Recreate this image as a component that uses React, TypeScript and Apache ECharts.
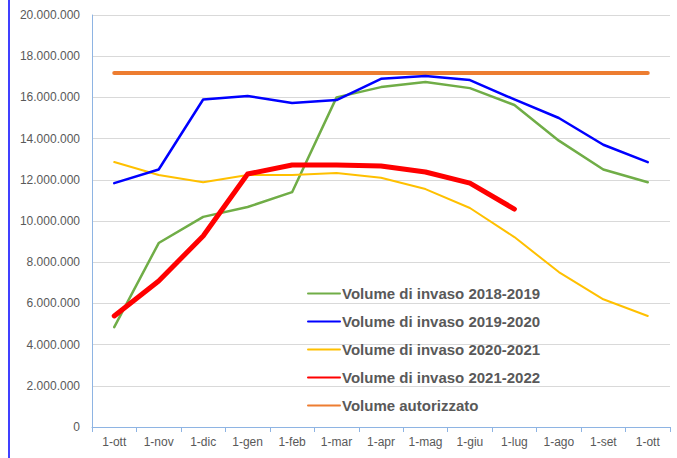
import React, { useEffect, useRef } from "react";
import * as echarts from "echarts";

const categories = ["1-ott", "1-nov", "1-dic", "1-gen", "1-feb", "1-mar", "1-apr", "1-mag", "1-giu", "1-lug", "1-ago", "1-set", "1-ott"];
const vol20182019 = [4850000, 8930000, 10200000, 10680000, 11400000, 16000000, 16500000, 16750000, 16450000, 15630000, 13900000, 12500000, 11880000];
const vol20192020 = [11840000, 12500000, 15900000, 16070000, 15730000, 15870000, 16900000, 17040000, 16840000, 15900000, 15000000, 13700000, 12860000];
const vol20202021 = [12860000, 12230000, 11880000, 12230000, 12230000, 12330000, 12100000, 11550000, 10630000, 9220000, 7520000, 6200000, 5390000];
const vol20212022 = [5390000, 7090000, 9270000, 12280000, 12720000, 12720000, 12670000, 12380000, 11840000, 10580000];
const volAutorizzato = [17180000, 17180000, 17180000, 17180000, 17180000, 17180000, 17180000, 17180000, 17180000, 17180000, 17180000, 17180000, 17180000];

const fmt = (v: number) => String(Math.round(v)).replace(/\B(?=(\d{3})+(?!\d))/g, ".");

export default function App() {
  const ref = useRef<HTMLDivElement>(null);
  useEffect(() => {
    const chart = echarts.init(ref.current!, null, { renderer: "svg" });
    const font = "'Liberation Sans', Arial, sans-serif";
    const mk = (name: string, data: number[], color: string, width: number, z: number) => ({
      name,
      type: "line",
      data,
      symbol: "none",
      showSymbol: false,
      z,
      lineStyle: { color, width, cap: "round", join: "round" },
      itemStyle: { color },
    });
    chart.setOption({
      animation: false,
      backgroundColor: "#ffffff",
      textStyle: { fontFamily: font },
      grid: { left: 92, top: 15, right: 7, bottom: 31, containLabel: false },
      legend: {
        orient: "vertical",
        left: 302,
        top: 281,
        itemGap: 13,
        itemWidth: 32,
        itemHeight: 18,
        itemStyle: { opacity: 0 },
        textStyle: { fontSize: 15, fontWeight: "bold", color: "#595959", fontFamily: font, padding: [0, 0, 0, -3] },
        data: ["Volume di invaso 2018-2019", "Volume di invaso 2019-2020", "Volume di invaso 2020-2021", "Volume di invaso 2021-2022", "Volume autorizzato"],
      },
      xAxis: {
        type: "category",
        data: categories,
        boundaryGap: true,
        axisLine: { lineStyle: { color: "#8eb4e3", width: 1 } },
        axisTick: { show: true, length: 5, lineStyle: { color: "#8eb4e3" } },
        axisLabel: { color: "#595959", fontSize: 12, margin: 9, interval: 0 },
      },
      yAxis: {
        type: "value",
        min: 0,
        max: 20000000,
        interval: 2000000,
        axisLine: { show: true, lineStyle: { color: "#8eb4e3", width: 1 } },
        axisTick: { show: false },
        splitLine: { lineStyle: { color: "#d9d9d9", width: 1 } },
        axisLabel: { color: "#595959", fontSize: 12, margin: 12, formatter: (v: number) => fmt(v) },
      },
      graphic: [
        { type: "line", shape: { x1: 9, y1: 0, x2: 9, y2: 458 }, style: { stroke: "#0000ff", lineWidth: 1.5 } },
      ],
      series: [
        mk("Volume di invaso 2018-2019", vol20182019, "#70ad47", 2.5, 2),
        mk("Volume di invaso 2019-2020", vol20192020, "#0000ff", 2.5, 3),
        mk("Volume di invaso 2020-2021", vol20202021, "#ffc000", 2, 2),
        mk("Volume di invaso 2021-2022", vol20212022, "#ff0000", 5, 4),
        mk("Volume autorizzato", volAutorizzato, "#ed7d31", 4, 1),
      ],
    });
    return () => chart.dispose();
  }, []);
  return <div ref={ref} style={{ width: 677, height: 458, position: "absolute", left: 0, top: 0 }} />;
}
